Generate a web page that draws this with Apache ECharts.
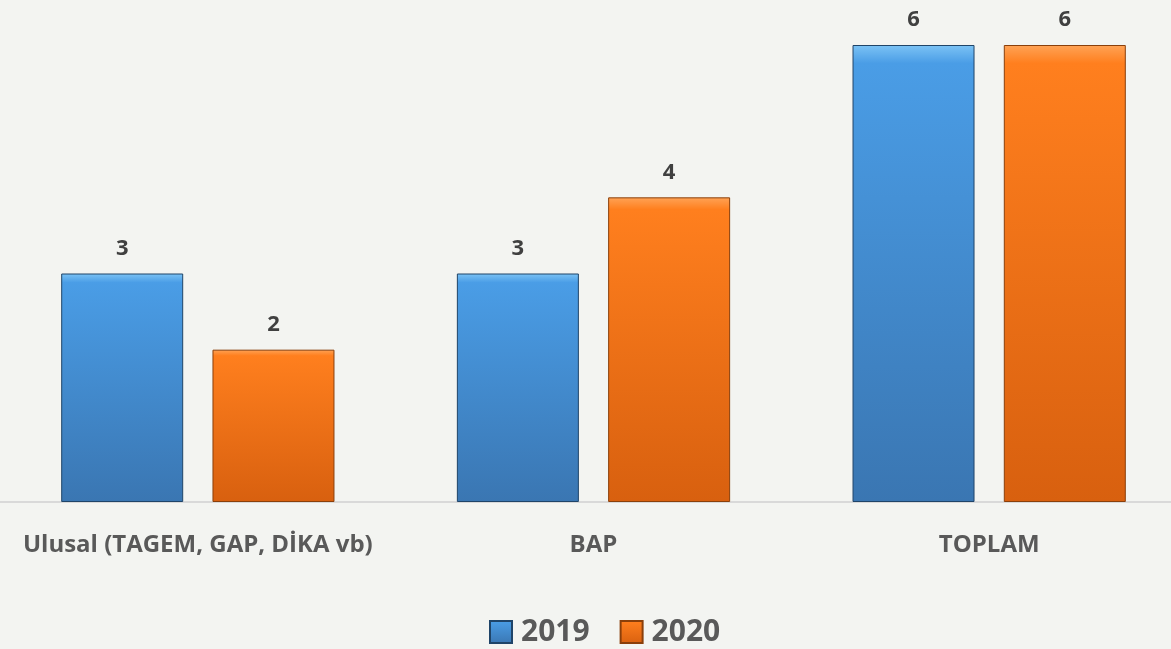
<!DOCTYPE html>
<html>
<head>
<meta charset="utf-8">
<script src="https://cdn.jsdelivr.net/npm/echarts@6/dist/echarts.min.js"></script>
<style>
  html, body { margin: 0; padding: 0; background: #f3f4f1; }
  #chart { width: 1171px; height: 649px; }
</style>
</head>
<body>
<div id="chart"></div>
<script>
  // categories and values
  var categories = ['Ulusal (TAGEM, GAP, DİKA vb)', 'BAP', 'TOPLAM'];
  var seriesNames = ['2019', '2020'];
  var values2019 = [3, 3, 6];
  var values2020 = [2, 4, 6];

  var fontFamily = '"Open Sans", "Liberation Sans", sans-serif';

  function grad(top, mid, bottom) {
    return new echarts.graphic.LinearGradient(0, 0, 0, 1, [
      { offset: 0, color: top },
      { offset: 0.04, color: mid },
      { offset: 1, color: bottom }
    ]);
  }

  var blue = grad('#7cc3f5', '#4a9de6', '#3a76b2');
  var orange = grad('#ffa356', '#ff7f1e', '#d8600f');

  var chart = echarts.init(document.getElementById('chart'));
  chart.setOption({
    backgroundColor: '#f3f4f1',
    animation: false,
    grid: { left: 0, top: 45, width: 1187, height: 457, outerBoundsMode: 'none', containLabel: false },
    legend: {
      data: seriesNames,
      left: 484,
      top: 612,
      itemWidth: 22,
      itemHeight: 22,
      itemGap: 30,
      icon: 'rect',
      textStyle: {
        fontFamily: fontFamily, fontSize: 30, fontWeight: 'bold', color: '#595959',
        padding: [0, 0, 0, 4]
      }
    },
    xAxis: {
      type: 'category',
      data: categories,
      axisTick: { show: false },
      axisLine: { lineStyle: { color: '#d9d9d9', width: 2 } },
      axisLabel: {
        interval: 0,
        hideOverlap: false,
        margin: 31,
        fontFamily: fontFamily,
        fontSize: 24,
        fontWeight: 'bold',
        color: '#595959'
      }
    },
    yAxis: {
      type: 'value',
      min: 0,
      max: 6,
      show: false,
      splitLine: { show: false }
    },
    series: [
      {
        name: '2019',
        type: 'bar',
        data: values2019,
        barWidth: 122,
        barGap: '24%',
        itemStyle: { color: blue, borderColor: '#1f4468', borderWidth: 1 },
        label: {
          show: true,
          position: 'top',
          distance: 14,
          fontFamily: fontFamily,
          fontSize: 22,
          fontWeight: 'bold',
          color: '#404040'
        }
      },
      {
        name: '2020',
        type: 'bar',
        data: values2020,
        barWidth: 122,
        itemStyle: { color: orange, borderColor: '#8a3f0a', borderWidth: 1 },
        label: {
          show: true,
          position: 'top',
          distance: 14,
          fontFamily: fontFamily,
          fontSize: 22,
          fontWeight: 'bold',
          color: '#404040'
        }
      }
    ]
  });
  window.addEventListener('resize', chart.resize);
</script>
</body>
</html>
